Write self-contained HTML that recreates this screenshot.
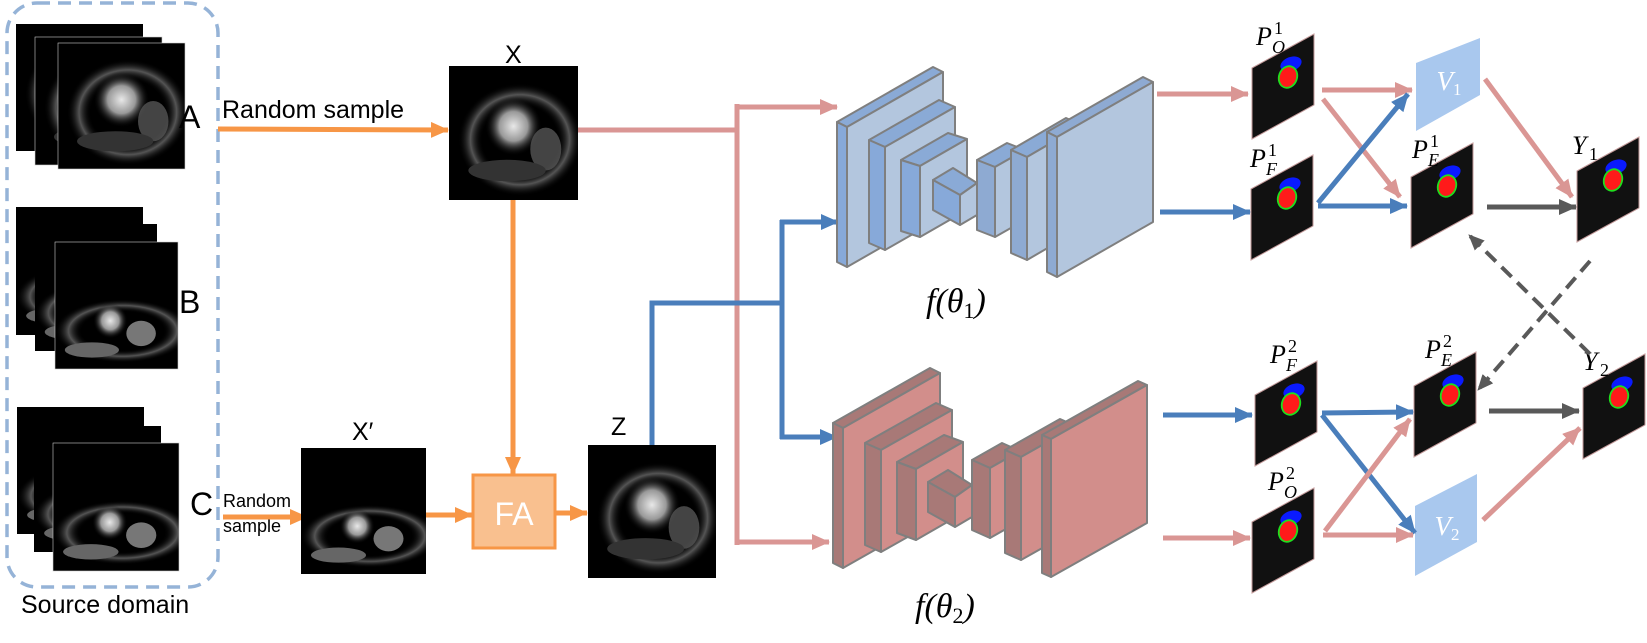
<!DOCTYPE html>
<html><head><meta charset="utf-8"><style>
html,body{margin:0;padding:0;background:#fff;}
svg{display:block;}
.sans{font-family:"Liberation Sans",sans-serif;}
.m{font-family:"Liberation Serif","DejaVu Serif",serif;font-style:italic;}
</style></head><body>
<svg width="1647" height="643" viewBox="0 0 1647 643" xmlns="http://www.w3.org/2000/svg">
<defs>
<marker id="ao" viewBox="0 0 18 16" markerWidth="18" markerHeight="16" refX="17" refY="8" orient="auto" markerUnits="userSpaceOnUse"><path d="M0,0L18,8L0,16z" fill="#f79646"/></marker>
<marker id="ap" viewBox="0 0 18 16" markerWidth="18" markerHeight="16" refX="17" refY="8" orient="auto" markerUnits="userSpaceOnUse"><path d="M0,0L18,8L0,16z" fill="#da9694"/></marker>
<marker id="ab" viewBox="0 0 18 16" markerWidth="18" markerHeight="16" refX="17" refY="8" orient="auto" markerUnits="userSpaceOnUse"><path d="M0,0L18,8L0,16z" fill="#4a7ebb"/></marker>
<marker id="ag" viewBox="0 0 18 16" markerWidth="18" markerHeight="16" refX="17" refY="8" orient="auto" markerUnits="userSpaceOnUse"><path d="M0,0L18,8L0,16z" fill="#595959"/></marker>
<marker id="ad" viewBox="0 0 16 14" markerWidth="16" markerHeight="14" refX="15" refY="7" orient="auto" markerUnits="userSpaceOnUse"><path d="M0,0L16,7L0,14z" fill="#595959"/></marker>
<radialGradient id="h" cx="0.5" cy="0.5" r="0.5"><stop offset="0" stop-color="#e8e8e8"/><stop offset="0.5" stop-color="#999"/><stop offset="1" stop-color="#000" stop-opacity="0"/></radialGradient>
<radialGradient id="r" cx="0.5" cy="0.5" r="0.5"><stop offset="0.6" stop-color="#000" stop-opacity="0"/><stop offset="0.8" stop-color="#555"/><stop offset="1" stop-color="#000" stop-opacity="0"/></radialGradient>
<clipPath id="cp"><rect x="0" y="0" width="100" height="100"/></clipPath>
<g id="mri" clip-path="url(#cp)">
<rect x="0" y="0" width="100" height="100" fill="#000"/>
<ellipse cx="55" cy="55" rx="48" ry="42" fill="url(#r)"/>
<ellipse cx="50" cy="45" rx="22" ry="22" fill="url(#h)"/>
<ellipse cx="75" cy="62" rx="12" ry="16" fill="#555" opacity="0.8"/>
<ellipse cx="45" cy="78" rx="30" ry="8" fill="#333"/>
</g>
<g id="mri2" clip-path="url(#cp)">
<rect x="0" y="0" width="100" height="100" fill="#000"/>
<ellipse cx="55" cy="70" rx="55" ry="25" fill="url(#r)"/>
<ellipse cx="45" cy="62" rx="14" ry="14" fill="url(#h)"/>
<ellipse cx="70" cy="72" rx="12" ry="10" fill="#777"/>
<ellipse cx="30" cy="85" rx="22" ry="6" fill="#666"/>
</g>
<g id="map">
<polygon points="0,0 62,-34 62,37 0,71" fill="#111" stroke="#c39a9a" stroke-width="1"/>
<ellipse cx="39" cy="-4" rx="11" ry="7" transform="rotate(-20 39 -4)" fill="#0a1aff"/>
<ellipse cx="36" cy="9" rx="9" ry="11" transform="rotate(20 36 9)" fill="#ff1a1a" stroke="#1ee01e" stroke-width="1.8"/>
</g>
</defs>

<rect x="7" y="3" width="211" height="584" rx="30" ry="30" fill="none" stroke="#95b3d7" stroke-width="3.5" stroke-dasharray="13,8"/>
<text x="21" y="613" class="sans" font-size="25">Source domain</text>

<use href="#mri" transform="translate(16,24) scale(1.27,1.27)"/>
<use href="#mri" transform="translate(35,37) scale(1.27,1.28)"/>
<rect x="35" y="37" width="127" height="128" fill="none" stroke="#ccc" stroke-width="0.6"/>
<use href="#mri" transform="translate(58,43) scale(1.27,1.26)"/>
<rect x="58" y="43" width="127" height="126" fill="none" stroke="#ccc" stroke-width="0.6"/>
<text x="179" y="128" class="sans" font-size="32">A</text>

<use href="#mri2" transform="translate(16,207) scale(1.27,1.28)"/>
<use href="#mri2" transform="translate(35,224) scale(1.22,1.27)"/>
<use href="#mri2" transform="translate(55,242) scale(1.23,1.27)"/>
<rect x="55" y="242" width="123" height="127" fill="none" stroke="#ccc" stroke-width="0.6"/>
<text x="179" y="313" class="sans" font-size="32">B</text>

<use href="#mri2" transform="translate(17,407) scale(1.27,1.27)"/>
<use href="#mri2" transform="translate(34,426) scale(1.27,1.26)"/>
<use href="#mri2" transform="translate(53,443) scale(1.26,1.28)"/>
<rect x="53" y="443" width="126" height="128" fill="none" stroke="#ccc" stroke-width="0.6"/>
<text x="190" y="515" class="sans" font-size="32">C</text>

<text x="222" y="118" class="sans" font-size="25">Random sample</text>
<line x1="218" y1="129" x2="448" y2="130" stroke="#f79646" stroke-width="5" marker-end="url(#ao)"/>
<text x="505" y="63" class="sans" font-size="25">X</text>
<use href="#mri" transform="translate(449,66) scale(1.29,1.34)"/>

<line x1="513" y1="200" x2="513" y2="474" stroke="#f79646" stroke-width="5" marker-end="url(#ao)"/>

<text x="223" y="507" class="sans" font-size="18">Random</text>
<text x="223" y="532" class="sans" font-size="18">sample</text>
<line x1="223" y1="517" x2="307" y2="517" stroke="#f79646" stroke-width="5" marker-end="url(#ao)"/>
<text x="352" y="440" class="sans" font-size="25">X′</text>
<use href="#mri2" transform="translate(301,448) scale(1.25,1.26)"/>

<line x1="426" y1="515" x2="472" y2="515" stroke="#f79646" stroke-width="5" marker-end="url(#ao)"/>
<rect x="473" y="475" width="82" height="73" fill="#f9c08f" stroke="#f79646" stroke-width="3"/>
<text x="514" y="525" class="sans" font-size="32" fill="#fff" text-anchor="middle">FA</text>
<line x1="556" y1="513" x2="587" y2="513" stroke="#f79646" stroke-width="5" marker-end="url(#ao)"/>
<text x="611" y="435" class="sans" font-size="25">Z</text>
<use href="#mri" transform="translate(588,445) scale(1.28,1.33)"/>

<polyline points="578,130 737,130" fill="none" stroke="#da9694" stroke-width="5"/>
<line x1="737" y1="104" x2="737" y2="545" stroke="#da9694" stroke-width="5"/>
<line x1="735" y1="107" x2="837" y2="107" stroke="#da9694" stroke-width="5" marker-end="url(#ap)"/>
<line x1="735" y1="542" x2="829" y2="542" stroke="#da9694" stroke-width="5" marker-end="url(#ap)"/>
<polyline points="652,445 652,303 784,303" fill="none" stroke="#4a7ebb" stroke-width="5"/>
<line x1="782" y1="220" x2="782" y2="439" stroke="#4a7ebb" stroke-width="5"/>
<line x1="780" y1="222" x2="838" y2="222" stroke="#4a7ebb" stroke-width="5" marker-end="url(#ab)"/>
<line x1="780" y1="437" x2="837" y2="437" stroke="#4a7ebb" stroke-width="5" marker-end="url(#ab)"/>

<g stroke="#7f7f7f" stroke-width="2" stroke-linejoin="round">
<polygon points="837,122 933,67 943,72 847,127" fill="#8aaad6"/>
<polygon points="837,122 847,127 847,267 837,262" fill="#87a9d9"/>
<polygon points="847,127 943,72 943,212 847,267" fill="#b3c6de"/>
<polygon points="869,140 939,100 955,107 885,147" fill="#8aaad6"/>
<polygon points="869,140 885,147 885,250 869,243" fill="#87a9d9"/>
<polygon points="885,147 955,107 955,210 885,250" fill="#b3c6de"/>
<polygon points="901,160 948,133 967,139 920,166" fill="#8aaad6"/>
<polygon points="901,160 920,166 920,237 901,231" fill="#87a9d9"/>
<polygon points="920,166 967,139 967,210 920,237" fill="#b3c6de"/>
<polygon points="933,180 953,168 977,183 960,195" fill="#8aaad6"/>
<polygon points="933,180 960,195 960,225 933,210" fill="#87a9d9"/>
<polygon points="960,195 977,183 977,215 960,225" fill="#b3c6de"/>
<polygon points="977,160 1007,143 1025,150 995,167" fill="#8aaad6"/>
<polygon points="977,160 995,167 995,237 977,230" fill="#8eaad2"/>
<polygon points="995,167 1025,150 1025,220 995,237" fill="#b3c6de"/>
<polygon points="1011,150 1066,118 1082,125 1027,157" fill="#8aaad6"/>
<polygon points="1011,150 1027,157 1027,260 1011,253" fill="#8eaad2"/>
<polygon points="1027,157 1082,125 1082,228 1027,260" fill="#b3c6de"/>
<polygon points="1047,132 1143,77 1153,82 1057,137" fill="#8eaad2"/>
<polygon points="1047,132 1057,137 1057,277 1047,272" fill="#8eaad2"/>
<polygon points="1057,137 1153,82 1153,222 1057,277" fill="#b3c6de"/>
</g>
<text x="926" y="312" class="m" font-size="34">f(θ<tspan font-size="22" dy="6" font-style="normal">1</tspan><tspan dy="-6">)</tspan></text>

<g stroke="#7f7f7f" stroke-width="2" stroke-linejoin="round">
<polygon points="833,423 930,368 940,373 843,428" fill="#a87977"/>
<polygon points="833,423 843,428 843,568 833,563" fill="#a87977"/>
<polygon points="843,428 940,373 940,513 843,568" fill="#d28e8b"/>
<polygon points="865,443 936,403 952,410 881,450" fill="#a87977"/>
<polygon points="865,443 881,450 881,552 865,545" fill="#a87977"/>
<polygon points="881,450 952,410 952,512 881,552" fill="#d28e8b"/>
<polygon points="897,462 944,435 963,442 916,469" fill="#a87977"/>
<polygon points="897,462 916,469 916,540 897,533" fill="#a87977"/>
<polygon points="916,469 963,442 963,513 916,540" fill="#d28e8b"/>
<polygon points="928,482 948,470 972,485 955,497" fill="#a87977"/>
<polygon points="928,482 955,497 955,527 928,512" fill="#a87977"/>
<polygon points="955,497 972,485 972,517 955,527" fill="#d28e8b"/>
<polygon points="972,460 1002,443 1020,451 990,468" fill="#a87977"/>
<polygon points="972,460 990,468 990,538 972,530" fill="#a87977"/>
<polygon points="990,468 1020,451 1020,521 990,538" fill="#d28e8b"/>
<polygon points="1005,450 1060,419 1076,426 1021,457" fill="#a87977"/>
<polygon points="1005,450 1021,457 1021,560 1005,553" fill="#a87977"/>
<polygon points="1021,457 1076,426 1076,529 1021,560" fill="#d28e8b"/>
<polygon points="1042,435 1138,381 1147,385 1051,439" fill="#a87977"/>
<polygon points="1042,435 1051,439 1051,577 1042,573" fill="#a87977"/>
<polygon points="1051,439 1147,385 1147,523 1051,577" fill="#d28e8b"/>
</g>
<text x="915" y="617" class="m" font-size="34">f(θ<tspan font-size="22" dy="6" font-style="normal">2</tspan><tspan dy="-6">)</tspan></text>

<line x1="1157" y1="94" x2="1248" y2="94" stroke="#da9694" stroke-width="5" marker-end="url(#ap)"/>
<line x1="1160" y1="212" x2="1250" y2="212" stroke="#4a7ebb" stroke-width="5" marker-end="url(#ab)"/>
<line x1="1163" y1="415" x2="1252" y2="415" stroke="#4a7ebb" stroke-width="5" marker-end="url(#ab)"/>
<line x1="1163" y1="538" x2="1250" y2="538" stroke="#da9694" stroke-width="5" marker-end="url(#ap)"/>

<use href="#map" x="1252" y="68"/>
<use href="#map" x="1251" y="189"/>
<use href="#map" x="1411" y="177"/>
<use href="#map" x="1577" y="171"/>
<use href="#map" x="1255" y="395"/>
<use href="#map" x="1414" y="386"/>
<use href="#map" x="1252" y="522"/>
<use href="#map" x="1583" y="388"/>

<polygon points="1416,63 1480,38 1480,95 1416,131" fill="#a9c8ee"/>
<text x="1449" y="90" class="m" font-size="27" fill="#fff" text-anchor="middle">V<tspan font-size="17" dy="5" font-style="normal">1</tspan></text>
<polygon points="1415,506 1477,474 1477,542 1415,576" fill="#a9c8ee"/>
<text x="1447" y="535" class="m" font-size="27" fill="#fff" text-anchor="middle">V<tspan font-size="17" dy="5" font-style="normal">2</tspan></text>

<g class="m" font-size="26">
<text x="1256" y="45">P</text><text x="1274" y="34" font-size="18" font-style="normal">1</text><text x="1272" y="53" font-size="18">O</text>
<text x="1250" y="167">P</text><text x="1268" y="156" font-size="18" font-style="normal">1</text><text x="1266" y="175" font-size="18">F</text>
<text x="1412" y="158">P</text><text x="1430" y="147" font-size="18" font-style="normal">1</text><text x="1428" y="166" font-size="18">E</text>
<text x="1270" y="363">P</text><text x="1288" y="352" font-size="18" font-style="normal">2</text><text x="1286" y="371" font-size="18">F</text>
<text x="1425" y="358">P</text><text x="1443" y="347" font-size="18" font-style="normal">2</text><text x="1441" y="366" font-size="18">E</text>
<text x="1268" y="490">P</text><text x="1286" y="479" font-size="18" font-style="normal">2</text><text x="1284" y="498" font-size="18">O</text>
<text x="1572" y="154">Y</text><text x="1589" y="160" font-size="18" font-style="normal">1</text>
<text x="1583" y="370">Y</text><text x="1600" y="376" font-size="18" font-style="normal">2</text>
</g>

<g stroke-width="5" fill="none">
<line x1="1322" y1="90" x2="1412" y2="90" stroke="#da9694" marker-end="url(#ap)"/>
<line x1="1323" y1="99" x2="1400" y2="197" stroke="#da9694" marker-end="url(#ap)"/>
<line x1="1318" y1="203" x2="1408" y2="94" stroke="#4a7ebb" marker-end="url(#ab)"/>
<line x1="1318" y1="206" x2="1407" y2="206" stroke="#4a7ebb" marker-end="url(#ab)"/>
<line x1="1485" y1="79" x2="1572" y2="197" stroke="#da9694" marker-end="url(#ap)"/>
<line x1="1487" y1="207" x2="1576" y2="207" stroke="#595959" marker-end="url(#ag)"/>
<line x1="1322" y1="413" x2="1413" y2="412" stroke="#4a7ebb" marker-end="url(#ab)"/>
<line x1="1322" y1="415" x2="1415" y2="533" stroke="#4a7ebb" marker-end="url(#ab)"/>
<line x1="1325" y1="531" x2="1410" y2="419" stroke="#da9694" marker-end="url(#ap)"/>
<line x1="1323" y1="535" x2="1413" y2="535" stroke="#da9694" marker-end="url(#ap)"/>
<line x1="1489" y1="411" x2="1579" y2="411" stroke="#595959" marker-end="url(#ag)"/>
<line x1="1483" y1="520" x2="1580" y2="428" stroke="#da9694" marker-end="url(#ap)"/>
<line x1="1590" y1="261" x2="1478" y2="390" stroke="#595959" stroke-width="4" stroke-dasharray="14,8" marker-end="url(#ad)"/>
<line x1="1590" y1="354" x2="1469" y2="235" stroke="#595959" stroke-width="4" stroke-dasharray="14,8" marker-end="url(#ad)"/>
</g>
</svg>
</body></html>
